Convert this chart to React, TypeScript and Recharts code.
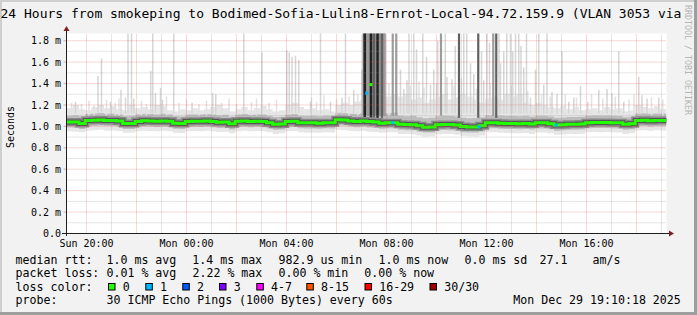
import React from 'react';
import {
  ComposedChart,
  Area,
  Line,
  XAxis,
  YAxis,
  CartesianGrid,
  ReferenceLine,
  Scatter,
  ErrorBar,
} from 'recharts';

// time axis: hours relative to Sun 20:00, one sample every 15 minutes from Sun 19:12
const START_H = -0.8;
const STEP_H = 0.25;

// median rtt (ms)
const median = [
  1.042, 1.04, 1.027, 1.055, 1.058, 1.06, 1.056, 1.056, 1.05, 1.027,
  1.027, 1.045, 1.052, 1.05, 1.048, 1.05, 1.048, 1.03, 1.027, 1.045,
  1.048, 1.048, 1.05, 1.045, 1.038, 1.04, 1.025, 1.048, 1.05, 1.045,
  1.047, 1.045, 1.035, 1.02, 1.022, 1.045, 1.048, 1.035, 1.033, 1.033,
  1.03, 1.035, 1.033, 1.062, 1.06, 1.05, 1.045, 1.05, 1.045, 1.04,
  1.03, 1.035, 1.035, 1.02, 1.017, 1.015, 1.005, 0.993, 0.995, 1.015,
  1.018, 1.017, 1.012, 0.998, 0.995, 0.995, 1.005, 1.035, 1.035, 1.03,
  1.027, 1.027, 1.025, 1.027, 1.022, 1.033, 1.033, 1.025, 1.012, 1.015,
  1.02, 1.02, 1.022, 1.035, 1.037, 1.037, 1.037, 1.035, 1.033, 1.02,
  1.025, 1.055, 1.058, 1.052, 1.055, 1.055, 1.055,
];

// light smoke (outer ping spread)
const smokeLow = [
  0.955, 0.95, 0.945, 0.96, 0.965, 0.968, 0.96, 0.962, 0.958, 0.94,
  0.942, 0.955, 0.96, 0.958, 0.955, 0.96, 0.955, 0.94, 0.938, 0.955,
  0.958, 0.955, 0.96, 0.955, 0.948, 0.95, 0.935, 0.955, 0.96, 0.955,
  0.958, 0.955, 0.945, 0.93, 0.935, 0.955, 0.958, 0.945, 0.94, 0.942,
  0.94, 0.945, 0.942, 0.968, 0.965, 0.958, 0.955, 0.96, 0.95, 0.948,
  0.94, 0.945, 0.945, 0.93, 0.928, 0.925, 0.915, 0.905, 0.908, 0.925,
  0.93, 0.928, 0.922, 0.91, 0.908, 0.905, 0.915, 0.945, 0.945, 0.94,
  0.938, 0.936, 0.935, 0.938, 0.93, 0.942, 0.943, 0.935, 0.922, 0.925,
  0.93, 0.93, 0.932, 0.945, 0.948, 0.946, 0.947, 0.945, 0.942, 0.93,
  0.935, 0.962, 0.965, 0.96, 0.963, 0.962, 0.962,
];
const smokeHigh = [
  1.17, 1.2, 1.16, 1.15, 1.18, 1.2, 1.17, 1.19, 1.16, 1.15,
  1.2, 1.17, 1.18, 1.16, 1.2, 1.19, 1.15, 1.14, 1.16, 1.15,
  1.17, 1.15, 1.16, 1.18, 1.2, 1.17, 1.14, 1.16, 1.18, 1.15,
  1.17, 1.19, 1.16, 1.14, 1.15, 1.2, 1.22, 1.18, 1.16, 1.17,
  1.15, 1.16, 1.14, 1.2, 1.22, 1.2, 1.23, 1.25, 1.4, 1.35,
  1.3, 1.28, 1.3, 1.28, 1.3, 1.25, 1.27, 1.22, 1.25, 1.28,
  1.3, 1.25, 1.27, 1.3, 1.28, 1.25, 1.22, 1.26, 1.28, 1.25,
  1.3, 1.28, 1.3, 1.22, 1.2, 1.22, 1.2, 1.18, 1.17, 1.19,
  1.16, 1.18, 1.15, 1.16, 1.17, 1.15, 1.18, 1.16, 1.17, 1.14,
  1.15, 1.2, 1.18, 1.17, 1.19, 1.16, 1.16,
];

// darker smoke (inner ping spread)
const coreLow = [
  0.99, 0.988, 0.975, 1.0, 1.005, 1.008, 1.003, 1.004, 0.998, 0.975,
  0.976, 0.993, 1.0, 0.998, 0.995, 0.999, 0.996, 0.978, 0.975, 0.993,
  0.996, 0.995, 0.999, 0.993, 0.986, 0.988, 0.972, 0.995, 0.999, 0.993,
  0.996, 0.993, 0.983, 0.968, 0.97, 0.993, 0.996, 0.983, 0.98, 0.981,
  0.978, 0.983, 0.98, 1.01, 1.008, 0.998, 0.993, 0.998, 0.99, 0.986,
  0.977, 0.983, 0.982, 0.968, 0.965, 0.963, 0.953, 0.942, 0.944, 0.963,
  0.966, 0.965, 0.96, 0.946, 0.943, 0.944, 0.953, 0.983, 0.983, 0.978,
  0.975, 0.975, 0.973, 0.975, 0.97, 0.981, 0.981, 0.973, 0.96, 0.963,
  0.968, 0.968, 0.97, 0.983, 0.985, 0.985, 0.985, 0.983, 0.981, 0.968,
  0.973, 1.003, 1.006, 1.0, 1.003, 1.003, 1.003,
];
const coreHigh = [
  1.1, 1.105, 1.095, 1.115, 1.12, 1.125, 1.118, 1.12, 1.112, 1.095,
  1.1, 1.11, 1.118, 1.115, 1.112, 1.118, 1.11, 1.095, 1.092, 1.11,
  1.112, 1.11, 1.115, 1.11, 1.105, 1.108, 1.09, 1.112, 1.115, 1.108,
  1.112, 1.11, 1.1, 1.088, 1.09, 1.112, 1.115, 1.1, 1.098, 1.1,
  1.095, 1.1, 1.098, 1.128, 1.125, 1.118, 1.115, 1.125, 1.2, 1.16,
  1.15, 1.12, 1.13, 1.1, 1.095, 1.1, 1.085, 1.075, 1.08, 1.095,
  1.1, 1.097, 1.092, 1.08, 1.075, 1.078, 1.085, 1.105, 1.105, 1.1,
  1.097, 1.097, 1.095, 1.097, 1.09, 1.1, 1.1, 1.092, 1.08, 1.083,
  1.088, 1.088, 1.09, 1.1, 1.102, 1.102, 1.102, 1.1, 1.098, 1.085,
  1.09, 1.12, 1.123, 1.118, 1.12, 1.12, 1.12,
];

// single-sample spikes: [hour, top (ms)]
const hazeSpikes = [
  [-0.6, 1.22], [-0.2, 1.21], [0.1, 1.24], [0.3, 1.2], [0.8, 1.25], [1.15, 1.22], [1.3, 1.26],
  [2.2, 1.24], [2.4, 1.21], [3.2, 1.28], [3.7, 1.22], [4.0, 1.25], [4.5, 1.21], [4.8, 1.24],
  [5.4, 1.22], [5.7, 1.26], [6.0, 1.21], [6.6, 1.23], [6.8, 1.26], [7.3, 1.22], [7.6, 1.25],
  [9.0, 1.27], [9.2, 1.23], [9.5, 1.29], [10.0, 1.25], [10.5, 1.28], [10.85, 1.3], [12.1, 1.4],
  [12.95, 1.38], [13.3, 1.42], [13.5, 1.36], [14.0, 1.4], [14.7, 1.38], [15.0, 1.45], [15.6, 1.35],
  [16.15, 1.4], [17.0, 1.38], [17.65, 1.33], [18.2, 1.3], [18.55, 1.28], [19.15, 1.3], [19.6, 1.27],
  [20.2, 1.3], [20.65, 1.26], [21.15, 1.28], [21.7, 1.25], [21.9, 1.3], [22.6, 1.27], [23.05, 1.25],
];
const lightSpikes = [
  [-0.44, 1.23], [0.46, 1.47], [0.6, 1.635], [0.96, 1.23], [1.38, 1.34], [1.56, 1.27],
  [1.66, 1.867], [1.8, 1.867], [1.89, 1.26], [2.57, 1.52], [2.65, 1.867], [2.76, 1.31],
  [2.96, 1.36], [3.04, 1.25], [3.49, 1.867], [4.22, 1.22], [5.05, 1.31], [5.17, 1.3],
  [6.29, 1.867], [7.02, 1.69], [8.01, 1.71], [8.11, 1.69], [8.22, 1.65], [8.36, 1.66],
  [8.49, 1.62], [8.96, 1.23], [9.36, 1.867], [9.76, 1.23], [10.22, 1.27], [10.36, 1.867],
  [10.69, 1.34], [11.02, 1.53], [12.56, 1.53], [12.69, 1.35], [12.82, 1.43], [12.9, 1.867],
  [13.09, 1.867], [13.2, 1.72], [13.45, 1.867], [13.6, 1.65], [13.76, 1.39], [13.89, 1.53],
  [14.05, 1.8], [14.35, 1.867], [14.42, 1.46], [14.62, 1.44], [14.75, 1.75], [15.09, 1.867],
  [15.21, 1.867], [15.36, 1.59], [15.49, 1.49], [15.8, 1.7], [15.89, 1.43], [16.02, 1.867],
  [16.12, 1.78], [16.5, 1.867], [16.56, 1.59], [16.69, 1.7], [16.81, 1.867], [16.96, 1.867],
  [17.05, 1.7], [17.16, 1.867], [17.29, 1.867], [17.38, 1.75], [17.49, 1.55], [17.6, 1.867],
  [17.76, 1.27], [17.96, 1.53], [18.09, 1.867], [18.29, 1.39], [18.42, 1.867], [18.62, 1.32],
  [18.82, 1.3], [19.02, 1.7], [19.29, 1.23], [19.49, 1.27], [19.76, 1.38], [20.05, 1.23],
  [20.49, 1.34], [20.82, 1.35], [21.02, 1.31], [21.29, 1.7], [21.49, 1.23], [22.09, 1.46],
  [22.22, 1.29], [22.42, 1.26], [22.89, 1.27],
];
const clusterSpikes = [
  [11.1, 1.867], [11.2, 1.867], [11.3, 1.867], [11.42, 1.867], [11.55, 1.867],
  [11.7, 1.867], [11.76, 1.867], [11.9, 1.867],
];
const mediumSpikes = [
  [11.25, 1.867], [11.92, 1.867], [12.25, 1.867], [12.39, 1.867], [14.18, 1.867], [16.27, 1.867],
];
const darkGreySpikes = [
  [11.5, 1.867], [11.82, 1.867], [14.9, 1.867], [15.67, 1.867], [16.39, 1.867],
];
const blackSpikes = [
  [11.13, 1.867], [11.38, 1.867], [11.64, 1.867],
];

// medians with packet loss: [hour, median]
const lossOneMedians = [[11.21, 1.31], [12.25, 1.035], [15.7, 0.995], [18.78, 1.012]];
const highMedians = [[11.37, 1.39]];

const xTicks = [0, 4, 8, 12, 16, 20];
const xTickLabels = ['Sun 20:00', 'Mon 00:00', 'Mon 04:00', 'Mon 08:00', 'Mon 12:00', 'Mon 16:00'];
const yTicks = [0, 0.2, 0.4, 0.6, 0.8, 1.0, 1.2, 1.4, 1.6, 1.8];
const yMinor = [0.1, 0.3, 0.5, 0.7, 0.9, 1.1, 1.3, 1.5, 1.7];
const xMajor = [0, 2, 4, 6, 8, 10, 12, 14, 16, 18, 20, 22];
const xMinor = [1, 3, 5, 7, 9, 11, 13, 15, 17, 19, 21, 23];

const lossLabels = ['0', '1', '2', '3', '4-7', '8-15', '16-29', '30/30'];
const lossColors = ['#26ff00', '#00b8ff', '#0059ff', '#7e00ff', '#ff00ff', '#ff5500', '#ff0000', '#a10000'];

const data = median.map((m, i) => ({
  t: Math.round((START_H + STEP_H * i) * 100) / 100,
  med: m,
  outer: [smokeLow[i], smokeHigh[i]],
  core: [coreLow[i], coreHigh[i]],
}));

const toSpikes = (arr: number[][], base: number) =>
  arr.map(([t, top]) => ({ t, base, err: [0, top - base] }));

const MONO = 'DejaVu Sans Mono';
const MGRID = 'rgba(222,79,79,0.45)';
const GRID = 'rgba(143,143,143,0.45)';

const noShape = () => <g />;
const square = (color: string) => (props: any) => (
  <rect x={props.cx - 1.5} y={props.cy - 1.5} width={3} height={3} fill={color} />
);

const legendFont = { fontFamily: MONO, fontSize: 11.6, fill: '#000' } as const;

const line1: [number, string][] = [
  [15.6, 'median rtt:'], [106.5, '1.0 ms avg'], [192.3, '1.4 ms max'], [278.5, '982.9 us min'],
  [378.5, '1.0 ms now'], [464.5, '0.0 ms sd'], [539.5, '27.1'], [592.5, 'am/s'],
];
const line2: [number, string][] = [
  [15.6, 'packet loss:'], [106.5, '0.01 % avg'], [192.5, '2.22 % max'], [278.5, '0.00 % min'], [364.3, '0.00 % now'],
];
const boxX = [108.5, 145.8, 182.8, 219.5, 256.8, 306.8, 365, 430];

const spikeLayer = (arr: number[][], base: number, color: string, w: number, key: string) => (
  <Scatter key={key} data={toSpikes(arr, base)} dataKey="base" shape={noShape} isAnimationActive={false}>
    <ErrorBar dataKey="err" width={0} stroke={color} strokeWidth={w} direction="y" />
  </Scatter>
);

export default function App() {
  return (
    <div style={{ position: 'absolute', left: 0, top: 0, width: 697, height: 315, background: '#f2f2f2', overflow: 'hidden' }}>
      <ComposedChart
        width={697}
        height={315}
        data={data}
        margin={{ top: 33.5, right: 30.5, bottom: 51.5, left: 0.5 }}
      >
        <CartesianGrid fill="#ffffff" horizontal={false} vertical={false} stroke="none" />
        <XAxis
          dataKey="t"
          type="number"
          domain={[-0.8, 23.2]}
          allowDataOverflow
          ticks={xTicks}
          interval={0}
          tickFormatter={(v: number) => xTickLabels[xTicks.indexOf(v)] ?? ''}
          axisLine={false}
          tickLine={false}
          tickSize={3}
          tickMargin={3}
          height={30}
          tick={{ fontFamily: MONO, fontSize: 10, fill: '#000' }}
        />
        <YAxis
          type="number"
          domain={[0, 1.867]}
          allowDataOverflow
          ticks={yTicks}
          interval={0}
          tickFormatter={(v: number) => (v === 0 ? '0.0' : `${v.toFixed(1)} m`)}
          axisLine={false}
          tickLine={{ stroke: MGRID }}
          tickSize={3}
          tickMargin={2.5}
          width={66}
          tick={{ fontFamily: MONO, fontSize: 10, fill: '#000' }}
        />
        <Area dataKey="outer" type="stepAfter" stroke="none" fill="#e6e6e6" fillOpacity={1} isAnimationActive={false} />
        {spikeLayer(hazeSpikes, 1.1, '#e2e2e2', 1.5, 'haze')}
        {spikeLayer(lightSpikes, 1.12, '#d6d6d6', 1.5, 'light')}
        {spikeLayer(clusterSpikes, 1.1, '#8f8f8f', 3, 'cluster')}
        {spikeLayer(mediumSpikes, 1.1, '#9c9c9c', 2.2, 'medium')}
        {spikeLayer(darkGreySpikes, 1.08, '#606060', 2.2, 'darkgrey')}
        {spikeLayer(blackSpikes, 1.08, '#222222', 2.5, 'black')}
        <Area dataKey="core" type="stepAfter" stroke="none" fill="#bdbdbd" fillOpacity={1} isAnimationActive={false} />
        <Line dataKey="med" type="stepAfter" stroke="#8a8a8a" strokeWidth={8} dot={false} isAnimationActive={false} />
        <Line dataKey="med" type="stepAfter" stroke="#555555" strokeWidth={5} dot={false} isAnimationActive={false} />
        <Line dataKey="med" type="stepAfter" stroke="#22ff00" strokeWidth={3} dot={false} isAnimationActive={false} />
        <Scatter
          data={lossOneMedians.map(([t, v]) => ({ t, v }))}
          dataKey="v"
          shape={square('#00b8ff')}
          isAnimationActive={false}
        />
        <Scatter
          data={highMedians.map(([t, v]) => ({ t, v }))}
          dataKey="v"
          shape={square('#22ff00')}
          isAnimationActive={false}
        />
        {yMinor.map((v) => (
          <ReferenceLine key={`ym${v}`} y={v} stroke={GRID} strokeDasharray="1 1" />
        ))}
        {yTicks.filter((v) => v > 0).map((v) => (
          <ReferenceLine key={`yM${v}`} y={v} stroke={MGRID} strokeDasharray="1 1" />
        ))}
        {xMinor.map((v) => (
          <ReferenceLine key={`xm${v}`} x={v} stroke={GRID} strokeDasharray="1 1" />
        ))}
        {xMajor.map((v) => (
          <ReferenceLine key={`xM${v}`} x={v} stroke={MGRID} strokeDasharray="1 1" />
        ))}
      </ComposedChart>

      <svg
        width={697}
        height={315}
        style={{ position: 'absolute', left: 0, top: 0, pointerEvents: 'none' }}
      >
        {/* frame */}
        <rect x={0} y={0} width={697} height={2} fill="#cfcfcf" />
        <rect x={0} y={0} width={2} height={315} fill="#cfcfcf" />
        <rect x={694} y={0} width={3} height={315} fill="#9e9e9e" />
        <rect x={0} y={312} width={697} height={3} fill="#9e9e9e" />

        {/* title */}
        <text x={0.5} y={18} fontFamily={MONO} fontSize={13} fill="#000">
          24 Hours from smokeping to Bodimed-Sofia-Lulin8-Ernrot-Local-94.72.159.9 (VLAN 3053 via
        </text>

        {/* watermark */}
        <text transform="translate(685,5) rotate(90)" fontFamily={MONO} fontSize={8.3} fill="#b5b5b5">
          RRDTOOL / TOBI OETIKER
        </text>

        {/* vertical label */}
        <text transform="translate(13.5,127) rotate(-90)" textAnchor="middle" fontFamily={MONO} fontSize={10} fill="#000">
          Seconds
        </text>

        {/* axes */}
        <line x1={66.5} y1={236} x2={66.5} y2={30} stroke="#1f1f1f" strokeWidth={1} />
        <line x1={62} y1={233.5} x2={670} y2={233.5} stroke="#1f1f1f" strokeWidth={1} />
        <polygon points="63.5,31 69.5,31 66.5,26" fill="#801f1f" />
        <polygon points="669,230.5 669,236.5 674,233.5" fill="#801f1f" />

        {/* legend */}
        {line1.map(([x, s]) => (
          <text key={`l1${x}`} x={x} y={263.5} {...legendFont}>{s}</text>
        ))}
        {line2.map(([x, s]) => (
          <text key={`l2${x}`} x={x} y={277} {...legendFont}>{s}</text>
        ))}
        <text x={15.6} y={290.5} {...legendFont}>loss color:</text>
        {lossLabels.map((lab, i) => (
          <g key={lab}>
            <rect x={boxX[i]} y={283.5} width={6.5} height={6.5} fill={lossColors[i]} stroke="#000" strokeWidth={1} />
            <text x={boxX[i] + 14.2} y={290.5} {...legendFont}>{lab}</text>
          </g>
        ))}
        <text x={15.6} y={304} {...legendFont}>probe:</text>
        <text x={106.5} y={304} {...legendFont}>30 ICMP Echo Pings (1000 Bytes) every 60s</text>
        <text x={680.8} y={304} textAnchor="end" {...legendFont}>Mon Dec 29 19:10:18 2025</text>
      </svg>
    </div>
  );
}
